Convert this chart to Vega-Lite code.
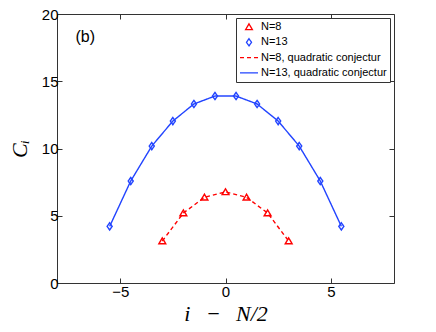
{
  "$schema": "https://vega.github.io/schema/vega-lite/v6.json",
  "width": 337,
  "height": 269,
  "autosize": {"type": "none"},
  "padding": {"left": 57, "top": 14, "right": 42, "bottom": 49},
  "background": "white",
  "config": {
    "view": {"stroke": "#333333", "strokeWidth": 1},
    "axis": {"grid": false, "domain": false, "tickSize": -5, "tickColor": "#333333", "tickWidth": 1,
             "labelFont": "Liberation Sans", "labelFontSize": 15, "labelColor": "#000000",
             "titleFont": "Liberation Serif", "titleFontStyle": "italic", "titleFontWeight": "normal", "titleFontSize": 22, "titleColor": "#000000"},
    "legend": {"orient": "top-right", "offset": 4, "title": null, "padding": 3, "strokeColor": "#333333", "fillColor": "white",
               "labelFont": "Liberation Sans", "labelFontSize": 11, "labelColor": "#000000", "labelOffset": 2,
               "symbolSize": 324, "clipHeight": 12, "rowPadding": 3.3, "symbolStrokeWidth": 1.3}
  },
  "datasets": {
    "pts": [
      {"series": "N=8", "x": -3, "y": 3.12},
      {"series": "N=8", "x": -2, "y": 5.2},
      {"series": "N=8", "x": -1, "y": 6.37},
      {"series": "N=8", "x": 0, "y": 6.77},
      {"series": "N=8", "x": 1, "y": 6.37},
      {"series": "N=8", "x": 2, "y": 5.2},
      {"series": "N=8", "x": 3, "y": 3.12},
      {"series": "N=13", "x": -5.5, "y": 4.21},
      {"series": "N=13", "x": -4.5, "y": 7.58},
      {"series": "N=13", "x": -3.5, "y": 10.18},
      {"series": "N=13", "x": -2.5, "y": 12.04},
      {"series": "N=13", "x": -1.5, "y": 13.31},
      {"series": "N=13", "x": -0.5, "y": 13.9},
      {"series": "N=13", "x": 0.5, "y": 13.9},
      {"series": "N=13", "x": 1.5, "y": 13.31},
      {"series": "N=13", "x": 2.5, "y": 12.04},
      {"series": "N=13", "x": 3.5, "y": 10.18},
      {"series": "N=13", "x": 4.5, "y": 7.58},
      {"series": "N=13", "x": 5.5, "y": 4.21}
    ],
    "lines": [
      {"series": "N=8, quadratic conjectur", "x": -3, "y": 3.12},
      {"series": "N=8, quadratic conjectur", "x": -2, "y": 5.2},
      {"series": "N=8, quadratic conjectur", "x": -1, "y": 6.37},
      {"series": "N=8, quadratic conjectur", "x": 0, "y": 6.77},
      {"series": "N=8, quadratic conjectur", "x": 1, "y": 6.37},
      {"series": "N=8, quadratic conjectur", "x": 2, "y": 5.2},
      {"series": "N=8, quadratic conjectur", "x": 3, "y": 3.12},
      {"series": "N=13, quadratic conjectur", "x": -5.5, "y": 4.21},
      {"series": "N=13, quadratic conjectur", "x": -4.5, "y": 7.58},
      {"series": "N=13, quadratic conjectur", "x": -3.5, "y": 10.18},
      {"series": "N=13, quadratic conjectur", "x": -2.5, "y": 12.04},
      {"series": "N=13, quadratic conjectur", "x": -1.5, "y": 13.31},
      {"series": "N=13, quadratic conjectur", "x": -0.5, "y": 13.9},
      {"series": "N=13, quadratic conjectur", "x": 0.5, "y": 13.9},
      {"series": "N=13, quadratic conjectur", "x": 1.5, "y": 13.31},
      {"series": "N=13, quadratic conjectur", "x": 2.5, "y": 12.04},
      {"series": "N=13, quadratic conjectur", "x": 3.5, "y": 10.18},
      {"series": "N=13, quadratic conjectur", "x": 4.5, "y": 7.58},
      {"series": "N=13, quadratic conjectur", "x": 5.5, "y": 4.21}
    ],
    "notes": [
      {"label": "(b)", "x": -6.66, "y": 18.3}
    ]
  },
  "layer": [
    {
      "data": {"name": "lines"},
      "mark": {"type": "line", "strokeWidth": 1.4},
      "encoding": {
        "x": {"field": "x", "type": "quantitative", "scale": {"domain": [-8, 8], "nice": false, "zero": false},
              "axis": {"orient": "bottom", "values": [-5, 0, 5], "title": "i\u2002\u2009\u2212\u2002\u2009N/2", "labelPadding": 6, "titlePadding": 4}},
        "y": {"field": "y", "type": "quantitative", "scale": {"domain": [0, 20], "nice": false},
              "axis": {"orient": "left", "values": [0, 5, 10, 15, 20], "title": "C\u1d62", "labelPadding": 4, "titlePadding": 10}},
        "color": {"field": "series", "type": "nominal",
                  "scale": {"domain": ["N=8", "N=13", "N=8, quadratic conjectur", "N=13, quadratic conjectur"], "range": ["#ff0000", "#2244ff", "#ff0000", "#2244ff"]}},
        "strokeDash": {"field": "series", "type": "nominal",
                       "scale": {"domain": ["N=8", "N=13", "N=8, quadratic conjectur", "N=13, quadratic conjectur"], "range": [[1, 0], [1, 0], [4, 3], [1, 0]]}}
      }
    },
    {
      "data": {"name": "pts"},
      "mark": {"type": "point", "filled": false, "size": 324, "strokeWidth": 1.4, "opacity": 1},
      "encoding": {
        "x": {"field": "x", "type": "quantitative", "axis": null},
        "y": {"field": "y", "type": "quantitative", "axis": null},
        "color": {"field": "series", "type": "nominal"},
        "strokeDash": {"field": "series", "type": "nominal"},
        "shape": {"field": "series", "type": "nominal",
                  "scale": {"domain": ["N=8", "N=13", "N=8, quadratic conjectur", "N=13, quadratic conjectur"],
                            "range": ["M0,-0.35L0.38,0.3L-0.38,0.3Z", "M0,-0.4L0.28,0L0,0.4L-0.28,0Z", "M-1,0L1,0", "M-1,0L1,0"]}}
      }
    },
    {
      "data": {"name": "notes"},
      "mark": {"type": "text", "font": "Liberation Sans", "fontSize": 16, "color": "#000000"},
      "encoding": {
        "x": {"field": "x", "type": "quantitative", "axis": null},
        "y": {"field": "y", "type": "quantitative", "axis": null},
        "text": {"field": "label"}
      }
    },
    {
      "data": {"name": "notes"},
      "mark": {"type": "point", "opacity": 0},
      "encoding": {
        "x": {"field": "x", "type": "quantitative", "axis": {"orient": "top", "values": [-5, 0, 5], "labels": false, "title": null}},
        "y": {"field": "y", "type": "quantitative", "axis": {"orient": "right", "values": [0, 5, 10, 15, 20], "labels": false, "title": null}}
      }
    }
  ]
}
